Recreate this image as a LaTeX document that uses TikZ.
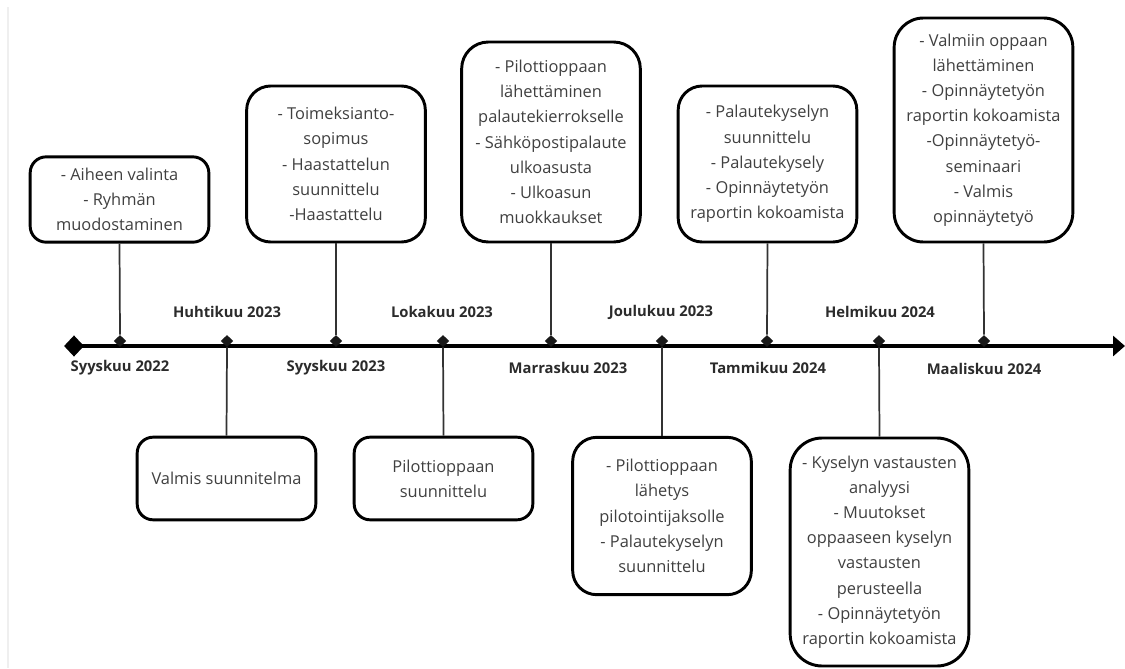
\documentclass[tikz,border=0pt]{standalone}
\usepackage{fontspec}
\setmainfont{Open Sans}
\usetikzlibrary{shapes.geometric,arrows.meta}
\definecolor{txt}{HTML}{404040}
\definecolor{lblc}{HTML}{2B2B2B}
\definecolor{connc}{HTML}{333333}
\definecolor{framec}{HTML}{EFEFEF}
\begin{document}
\begin{tikzpicture}[x=0.75pt,y=-0.75pt,
  evbox/.style={draw=black, line width=2.2pt, fill=white, align=center, text=txt,
    font=\fontsize{12.3}{18.9}\selectfont, inner sep=0pt, rounded corners=#1,
    minimum width=134pt},
  evbox/.default=10pt,
  monthlbl/.style={font=\fontsize{11.1}{12}\selectfont\bfseries, text=lblc},
  conn/.style={draw=connc, line width=1.3pt},
  tick/.style={diamond, fill=black!90, inner sep=0pt, minimum width=9.5pt, minimum height=9pt},
  bigtick/.style={diamond, fill=black, inner sep=0pt, minimum width=15pt, minimum height=16pt},
  axis/.style={draw=black, line width=3pt, -{Triangle[length=9pt,width=15pt]}}
]
\useasboundingbox (0,0) rectangle (1125,668);
\draw[framec, line width=0.8pt] (8,7) -- (8,668);

% timeline
\node[bigtick] (start) at (74,346) {};
\coordinate (end) at (1125,346);
\draw[axis] (start.center) -- (end);

% top boxes
\node[evbox=12pt, minimum height=64pt] (b1) at (119.5,199.5)
  {- Aiheen valinta\\- Ryhmän\\muodostaminen};
\node[evbox=18pt, minimum height=117pt] (b3) at (336,164)
  {- Toimeksianto-\\sopimus\\- Haastattelun\\suunnittelu\\-Haastattelu};
\node[evbox=20pt, minimum height=150pt] (b5) at (551,142)
  {- Pilottioppaan\\lähettäminen\\palautekierrokselle\\- Sähköpostipalaute\\ulkoasusta\\- Ulkoasun\\muokkaukset};
\node[evbox=18pt, minimum height=117pt] (b7) at (767.5,164)
  {- Palautekyselyn\\suunnittelu\\- Palautekysely\\- Opinnäytetyön\\raportin kokoamista};
\node[evbox=22pt, minimum height=168pt] (b9) at (983.5,130)
  {- Valmiin oppaan\\lähettäminen\\- Opinnäytetyön\\raportin kokoamista\\-Opinnäytetyö-\\seminaari\\- Valmis\\opinnäytetyö};

% bottom boxes
\node[evbox=12pt, minimum height=62pt] (b2) at (226.5,478.5)
  {Valmis suunnitelma};
\node[evbox=12pt, minimum height=62pt] (b4) at (443.5,478.5)
  {Pilottioppaan\\suunnittelu};
\node[evbox=18pt, minimum height=118pt] (b6) at (662,516)
  {- Pilottioppaan\\lähetys\\pilotointijaksolle\\- Palautekyselyn\\suunnittelu};
\node[evbox=24pt, minimum height=171pt] (b8) at (879.5,552)
  {- Kyselyn vastausten\\analyysi\\- Muutokset\\oppaaseen kyselyn\\vastausten\\perusteella\\- Opinnäytetyön\\raportin kokoamista};

% ticks
\node[tick] (d1) at (120,341) {};
\node[tick] (d2) at (227,341) {};
\node[tick] (d3) at (336,341) {};
\node[tick] (d4) at (443,341) {};
\node[tick] (d5) at (551,341) {};
\node[tick] (d6) at (662,341) {};
\node[tick] (d7) at (767,341) {};
\node[tick] (d8) at (879,341) {};
\node[tick] (d9) at (984,341) {};

% connectors
\draw[conn] (b1.south) -- (d1.north);
\draw[conn] (b3.south) -- (d3.north);
\draw[conn] (b5.south) -- (d5.north);
\draw[conn] (b7.south) -- (d7.north);
\draw[conn] (b9.south) -- (d9.north);
\draw[conn] (d2.south) -- (b2.north);
\draw[conn] (d4.south) -- (b4.north);
\draw[conn] (d6.south) -- (b6.north);
\draw[conn] (d8.south) -- (b8.north);

% month labels
\node[monthlbl] (m1) at (120,368) {Syyskuu 2022};
\node[monthlbl] (m2) at (227,312) {Huhtikuu 2023};
\node[monthlbl] (m3) at (336,368) {Syyskuu 2023};
\node[monthlbl] (m4) at (442,312) {Lokakuu 2023};
\node[monthlbl] (m5) at (568,368) {Marraskuu 2023};
\node[monthlbl] (m6) at (661,312) {Joulukuu 2023};
\node[monthlbl] (m7) at (768,368) {Tammikuu 2024};
\node[monthlbl] (m8) at (880,312) {Helmikuu 2024};
\node[monthlbl] (m9) at (984,369) {Maaliskuu 2024};
\end{tikzpicture}
\end{document}
